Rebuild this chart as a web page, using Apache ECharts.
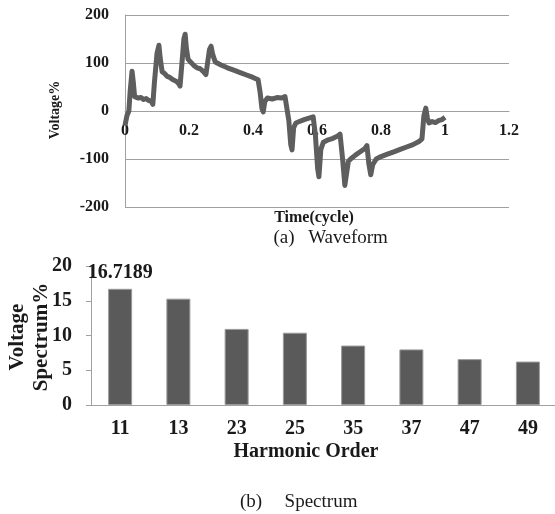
<!DOCTYPE html>
<html>
<head>
<meta charset="utf-8">
<script src="https://cdn.jsdelivr.net/npm/echarts@6/dist/echarts.min.js"></script>
<style>
  html, body { margin: 0; padding: 0; background: #fff; }
  #chart { width: 555px; height: 514px; }
</style>
</head>
<body>
<div id="chart"></div>
<script>
// waveform (a): time in cycles, voltage in %
var waveTime = [
  0.000, 0.006, 0.012, 0.016, 0.022, 0.026, 0.030, 0.036, 0.042, 0.050,
  0.058, 0.066, 0.074, 0.082, 0.087, 0.092, 0.100, 0.106, 0.110, 0.116,
  0.124, 0.132, 0.140, 0.150, 0.160, 0.168, 0.172, 0.178, 0.184, 0.188,
  0.192, 0.197, 0.205, 0.215, 0.225, 0.235, 0.245, 0.253, 0.258, 0.264,
  0.269, 0.274, 0.282, 0.300, 0.320, 0.340, 0.360, 0.380, 0.400, 0.416,
  0.422, 0.428, 0.432, 0.437, 0.445, 0.460, 0.475, 0.490, 0.500, 0.506,
  0.512, 0.518, 0.522, 0.527, 0.534, 0.545, 0.560, 0.575, 0.588, 0.595,
  0.602, 0.606, 0.612, 0.620, 0.635, 0.650, 0.665, 0.672, 0.680, 0.687,
  0.692, 0.698, 0.705, 0.720, 0.735, 0.750, 0.756, 0.762, 0.768, 0.774,
  0.785, 0.800, 0.820, 0.840, 0.860, 0.880, 0.900, 0.920, 0.928, 0.934,
  0.940, 0.945, 0.950, 0.960, 0.970, 0.980, 0.990, 1.000
];
var waveVoltage = [
  -30, -10, 0, 40, 83, 60, 30, 32, 27, 28,
  24, 26, 22, 20, 14, 60, 120, 137, 110, 82,
  78, 72, 70, 65, 62, 57, 52, 100, 150, 160,
  130, 108, 102, 95, 90, 88, 82, 76, 100, 128,
  135, 118, 102, 96, 90, 85, 80, 75, 70, 65,
  40, 5, -2, 20, 27, 25, 28, 27, 30, 28,
  -20, -70, -81, -35, -25, -22, -18, -15, -12, -50,
  -120, -137, -80, -65, -60, -57, -52, -48, -100, -155,
  -158, -105, -100, -92, -85, -78, -72, -110, -133, -112,
  -100, -95, -90, -85, -80, -75, -70, -63, -58, -10,
  6, -15, -25, -22, -24, -20, -18, -13
];

// spectrum (b)
var harmonicOrder = ['11', '13', '23', '25', '35', '37', '47', '49'];
var spectrum = [16.7189, 15.3, 10.95, 10.4, 8.55, 8.0, 6.6, 6.25];

var serif = '"Liberation Serif", "Times New Roman", serif';
var gridColor = '#a0a0a0';
var inkColor = '#1a1a1a';

var myChart = echarts.init(document.getElementById('chart'));

var waveData = waveTime.map(function (t, i) { return [t, waveVoltage[i]]; });
var barData = spectrum.map(function (v, i) {
  // only the first bar carries a value label
  return i === 0 ? { value: v, label: { show: true } } : v;
});

function txt(x, y, text, size, weight, rot, lh) {
  return {
    type: 'text',
    x: x,
    y: y,
    rotation: rot || 0,
    style: {
      text: text,
      fontFamily: serif,
      fontSize: size,
      fontWeight: weight,
      fill: inkColor,
      align: 'center',
      verticalAlign: 'middle',
      textAlign: 'center',
      textVerticalAlign: 'middle',
      lineHeight: lh || size + 6
    }
  };
}

var option = {
  animation: false,
  backgroundColor: '#fff',
  grid: [
    { left: 125, right: 46, top: 15, bottom: 307, outerBoundsMode: 'none' },
    { left: 91, right: -2, top: 266, bottom: 109, outerBoundsMode: 'none' }
  ],
  xAxis: [
    {
      type: 'value',
      gridIndex: 0,
      min: 0,
      max: 1.2,
      interval: 0.2,
      position: 'bottom',
      // the axis sits on the zero line, half way up the plot
      offset: -96,
      axisLine: { onZero: false, lineStyle: { color: gridColor, width: 1 } },
      axisTick: { show: false },
      splitLine: { show: false },
      axisLabel: {
        margin: 12,
        color: inkColor,
        fontFamily: serif,
        fontSize: 16,
        fontWeight: 'bold'
      }
    },
    {
      type: 'category',
      gridIndex: 1,
      data: harmonicOrder,
      axisLine: { lineStyle: { color: gridColor, width: 1 } },
      axisTick: { show: false },
      axisLabel: {
        margin: 14,
        color: inkColor,
        fontFamily: serif,
        fontSize: 20,
        fontWeight: 'bold'
      }
    }
  ],
  yAxis: [
    {
      type: 'value',
      gridIndex: 0,
      min: -200,
      max: 200,
      interval: 100,
      axisLine: { show: true, lineStyle: { color: gridColor, width: 1 } },
      axisTick: { show: false },
      splitLine: { lineStyle: { color: gridColor, width: 1 } },
      axisLabel: {
        margin: 16,
        color: inkColor,
        fontFamily: serif,
        fontSize: 16,
        fontWeight: 'bold'
      }
    },
    {
      type: 'value',
      gridIndex: 1,
      min: 0,
      max: 20,
      interval: 5,
      axisLine: { show: true, lineStyle: { color: gridColor, width: 1 } },
      axisTick: { show: true, length: 5, lineStyle: { color: gridColor } },
      splitLine: { show: false },
      axisLabel: {
        margin: 19,
        color: inkColor,
        fontFamily: serif,
        fontSize: 20,
        fontWeight: 'bold'
      }
    }
  ],
  series: [
    {
      type: 'line',
      xAxisIndex: 0,
      yAxisIndex: 0,
      data: waveData,
      showSymbol: false,
      lineStyle: { color: '#5e5e5e', width: 5, join: 'round' }
    },
    {
      type: 'bar',
      xAxisIndex: 1,
      yAxisIndex: 1,
      data: barData,
      barWidth: 24,
      itemStyle: { color: '#5a5a5a', borderColor: '#9a9a9a', borderWidth: 1 },
      label: {
        show: false,
        position: 'top',
        distance: 6,
        color: inkColor,
        fontFamily: serif,
        fontSize: 20,
        fontWeight: 'bold'
      }
    }
  ],
  graphic: [
    txt(55, 110, 'Voltage%', 14, 'bold', Math.PI / 2),
    txt(314, 218, 'Time(cycle)', 16, 'bold'),
    txt(284, 238, '(a)', 19, 'normal'),
    txt(348, 238, 'Waveform', 19, 'normal'),
    txt(30, 337, 'Voltage\nSpectrum%', 21, 'bold', Math.PI / 2, 24),
    txt(306, 452, 'Harmonic Order', 20, 'bold'),
    txt(251, 502, '(b)', 19, 'normal'),
    txt(321, 502, 'Spectrum', 19, 'normal')
  ]
};

option && myChart.setOption(option);
</script>
</body>
</html>
